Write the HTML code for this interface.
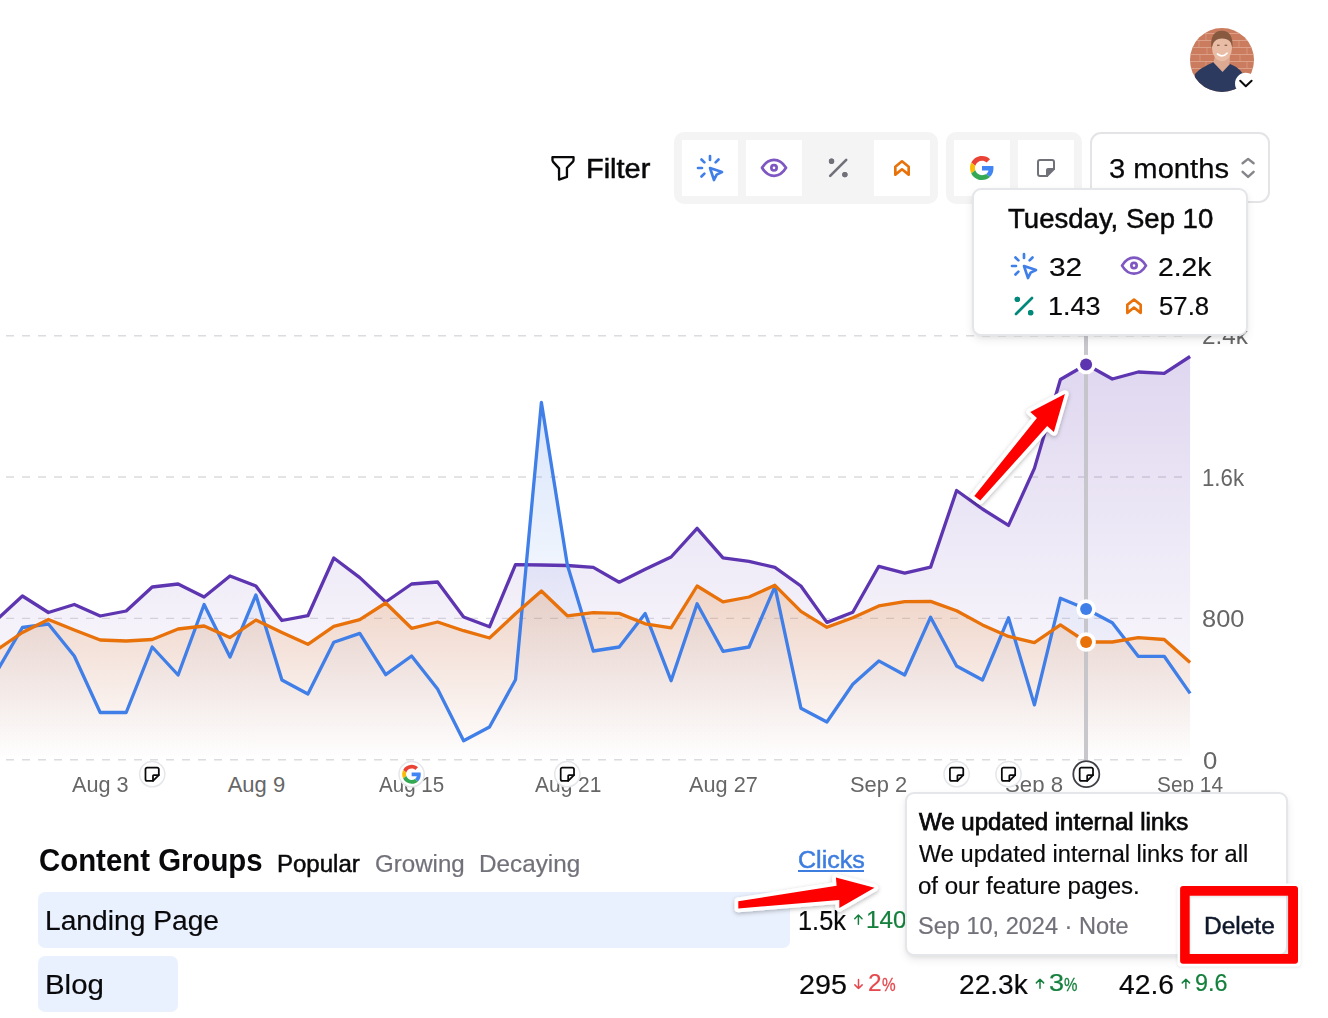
<!DOCTYPE html>
<html lang="en"><head><meta charset="utf-8"><title>Content Groups</title>
<style>
html,body{margin:0;padding:0;background:#fff;}
body{width:1328px;height:1018px;position:relative;overflow:hidden;font-family:"Liberation Sans",sans-serif;}
.t{position:absolute;white-space:nowrap;display:block;transform-origin:0 0;}
.abs{position:absolute;}
svg{position:absolute;left:0;top:0;overflow:visible;}
.grp{position:absolute;background:#f4f4f5;border-radius:10px;}
.btn{position:absolute;width:56px;height:56px;background:#fff;}
.card{position:absolute;background:#fff;border:2px solid #e5e6e9;border-radius:9px;box-shadow:0 4px 10px -1px rgba(0,0,0,.10),0 2px 5px -2px rgba(0,0,0,.08);box-sizing:border-box;}
</style></head><body>

<svg width="1328" height="120" viewBox="0 0 1328 120">
<defs><clipPath id="av"><circle cx="1222" cy="60" r="32"/></clipPath></defs>
<g clip-path="url(#av)">
<rect x="1188" y="26" width="68" height="68" fill="#cb7c5f"/>
<g stroke="#e3b09c" stroke-width=".9" opacity=".75"><path d="M1188 33.5H1256M1188 40.5H1256M1188 47.5H1256M1188 54.5H1256M1188 61.5H1256M1188 68.5H1256M1188 75.5H1256"/></g>
<g stroke="#e3b09c" stroke-width=".8" opacity=".6"><path d="M1198 26V33.5M1206 33.5V40.5M1199 40.5V47.5M1207 47.5V54.5M1200 54.5V61.5M1206 61.5V68.5M1240 26V33.5M1246 33.5V40.5M1239 40.5V47.5M1247 47.5V54.5M1240 54.5V61.5M1247 61.5V68.5"/></g>
<path d="M1192 98 L1195 74 C1200 68 1208 65 1213.5 62 L1222 70 L1229 63.5 C1235 66 1240 69 1243 74 L1252 98 Z" fill="#2b3a5e"/>
<path d="M1215 56 L1230 56 L1229.5 64.5 L1222.5 72 L1213.5 62.5 Z" fill="#dcaa93"/>
<ellipse cx="1222" cy="48" rx="10" ry="13.2" fill="#e9bca6"/>
<path d="M1211.6 49 C1209.5 36 1215 30.5 1222 30.8 C1229 31 1233.5 36 1232.4 48 C1231.5 42 1229 38.5 1222 38.5 C1215.5 38.5 1212.8 42 1211.6 49 Z" fill="#875a40"/>
<path d="M1217.5 54 Q1222.5 58.2 1227 53.2" stroke="#fff" stroke-width="1.7" fill="none" stroke-linecap="round"/>
<path d="M1217 45.2h2.6M1224.6 45.2h2.6" stroke="#6b4a3a" stroke-width="1.1"/>
</g>
<circle cx="1245.6" cy="83.4" r="10.6" fill="#fff"/>
<path d="M1240.2 80.8 L1245.8 86.3 L1251.6 80.8" fill="none" stroke="#09090b" stroke-width="2" stroke-linecap="round" stroke-linejoin="round"/>
</svg>

<div class="grp" style="left:674px;top:132px;width:264px;height:72px;"></div>
<div class="btn" style="left:682px;top:140px;"></div>
<div class="btn" style="left:746px;top:140px;"></div>
<div class="btn" style="left:874px;top:140px;"></div>
<div class="grp" style="left:946px;top:132px;width:136px;height:72px;"></div>
<div class="btn" style="left:954px;top:140px;"></div>
<div class="btn" style="left:1018px;top:140px;"></div>
<div class="abs" style="left:1090px;top:132px;width:180px;height:71px;box-sizing:border-box;border:2px solid #e4e4e7;border-radius:11px;background:#fff;"></div>
<span class="t " style="left:586.21px;top:154.10px;font-size:28.4px;line-height:28.4px;color:#09090b;transform:scaleX(1.0201);-webkit-text-stroke:0.5px #09090b;">Filter</span>
<span class="t " style="left:1108.68px;top:154.10px;font-size:28.4px;line-height:28.4px;color:#09090b;transform:scaleX(1.0275);-webkit-text-stroke:0.25px #09090b;">3 months</span>
<svg width="1328" height="220" viewBox="0 0 1328 220">
<g transform="translate(547.20,151.90) scale(1.3167)" fill="none" stroke="#09090b" stroke-width="1.75" stroke-linecap="round" stroke-linejoin="round"><path d="M4 4h16v2.172a2 2 0 0 1 -.586 1.414l-4.414 4.414v7l-6 2v-8.5l-4.48 -4.928a2 2 0 0 1 -.52 -1.345v-2.227z"/></g>
<g transform="translate(694.00,152.00) scale(1.3333)" fill="none" stroke="#407ee8" stroke-width="2" stroke-linecap="round" stroke-linejoin="round"><path d="M3 12l3 0"/><path d="M12 3l0 3"/><path d="M7.8 7.8l-2.2 -2.2"/><path d="M16.2 7.8l2.2 -2.2"/><path d="M7.8 16.2l-2.2 2.2"/><path d="M12 12l9 3l-4 2l-2 4l-3 -9"/></g>
<g transform="translate(758.00,151.80) scale(1.3333)" fill="none" stroke="#7e57c2" stroke-width="2" stroke-linecap="round" stroke-linejoin="round"><path d="M10 12a2 2 0 1 0 4 0a2 2 0 0 0 -4 0"/><path d="M21 12c-2.4 4 -5.4 6 -9 6c-3.6 0 -6.6 -2 -9 -6c2.4 -4 5.4 -6 9 -6c3.6 0 6.6 2 9 6"/></g>
<g transform="translate(822.20,151.90) scale(1.3333)" fill="none" stroke="#71717a" stroke-width="2" stroke-linecap="round" stroke-linejoin="round"><path d="M17 17m-1 0a1 1 0 1 0 2 0a1 1 0 1 0 -2 0"/><path d="M7 7m-1 0a1 1 0 1 0 2 0a1 1 0 1 0 -2 0"/><path d="M6 18l12 -12"/><circle cx="17" cy="17" r="1" fill="#71717a"/><circle cx="7" cy="7" r="1" fill="#71717a"/></g>
<g transform="translate(886.00,152.00) scale(1.3333)" fill="none" stroke="#e8710a" stroke-width="2" stroke-linecap="round" stroke-linejoin="round"><path d="M17 11v6l-5 -4l-5 4v-6l5 -4z"/></g>
<g transform="translate(970.00,156.00) scale(0.5000)"><path fill="#EA4335" d="M24 9.5c3.54 0 6.71 1.22 9.21 3.6l6.85-6.85C35.9 2.38 30.47 0 24 0 14.62 0 6.51 5.38 2.56 13.22l7.98 6.19C12.43 13.72 17.74 9.5 24 9.5z"/><path fill="#4285F4" d="M46.98 24.55c0-1.57-.15-3.09-.38-4.55H24v9.02h12.94c-.58 2.96-2.26 5.48-4.78 7.18l7.73 6c4.51-4.18 7.09-10.36 7.09-17.65z"/><path fill="#FBBC05" d="M10.53 28.59c-.48-1.45-.76-2.99-.76-4.59s.27-3.14.76-4.59l-7.98-6.19C.92 16.46 0 20.12 0 24c0 3.88.92 7.54 2.56 10.78l7.97-6.19z"/><path fill="#34A853" d="M24 48c6.48 0 11.93-2.13 15.89-5.81l-7.73-6c-2.15 1.45-4.92 2.3-8.16 2.3-6.26 0-11.57-4.22-13.47-9.91l-7.98 6.19C6.51 42.62 14.62 48 24 48z"/></g>
<g transform="translate(1034.00,156.00) scale(1.0000)" fill="none" stroke="#71717a" stroke-width="2" stroke-linecap="round" stroke-linejoin="round"><path d="M13 20l7 -7"/><path d="M13 20v-6a1 1 0 0 1 1 -1h6v-7a2 2 0 0 0 -2 -2h-12a2 2 0 0 0 -2 2v12a2 2 0 0 0 2 2h7"/><path d="M13.6 19.2v-5.2a.4 .4 0 0 1 .4 -.4h5.2z" fill="#71717a" stroke="none"/></g>
<path d="M1242.6 163.2 L1248.1 158.9 L1253.6 163.2 M1242.6 171.8 L1248.1 176.9 L1253.6 171.8" fill="none" stroke="#85858b" stroke-width="2.4" stroke-linecap="round" stroke-linejoin="round"/>
</svg>
<svg width="1328" height="1018" viewBox="0 0 1328 1018">
<defs>
<linearGradient id="gp" x1="0" y1="0" x2="0" y2="1"><stop offset="0" stop-color="#5e35b1" stop-opacity=".20"/><stop offset="1" stop-color="#5e35b1" stop-opacity="0"/></linearGradient>
<linearGradient id="gb" x1="0" y1="0" x2="0" y2="1"><stop offset="0" stop-color="#407ee8" stop-opacity=".2"/><stop offset=".5" stop-color="#407ee8" stop-opacity=".07"/><stop offset="1" stop-color="#407ee8" stop-opacity="0"/></linearGradient>
<linearGradient id="go" x1="0" y1="0" x2="0" y2="1"><stop offset="0" stop-color="#e8710a" stop-opacity=".21"/><stop offset="1" stop-color="#e8710a" stop-opacity="0"/></linearGradient>
</defs>
<path d="M-10 335.7 H1190" stroke="#dcdce0" stroke-width="1.4" stroke-dasharray="8 8" fill="none"/>
<path d="M-10 477 H1190" stroke="#dcdce0" stroke-width="1.4" stroke-dasharray="8 8" fill="none"/>
<path d="M-10 618.4 H1190" stroke="#dcdce0" stroke-width="1.4" stroke-dasharray="8 8" fill="none"/>
<path d="M-10 759.8 H1190" stroke="#dcdce0" stroke-width="1.4" stroke-dasharray="8 8" fill="none"/>
<path d="M-3.5,620.0 L22.4,596.0 L48.4,612.5 L74.3,604.5 L100.2,616.0 L126.2,611.0 L152.2,587.0 L178.1,584.0 L204.1,597.0 L230.0,576.0 L255.9,586.0 L281.9,620.5 L307.9,615.7 L333.8,558.0 L359.8,577.6 L385.7,602.0 L411.6,584.0 L437.6,582.0 L463.6,617.0 L489.5,626.8 L515.5,564.7 L541.4,565.0 L567.3,565.5 L593.3,567.4 L619.2,582.2 L645.2,569.3 L671.1,557.0 L697.1,528.3 L723.0,557.8 L749.0,561.3 L774.9,567.4 L800.9,586.0 L826.9,622.4 L852.8,612.2 L878.8,566.3 L904.7,573.2 L930.6,567.1 L956.6,490.5 L982.5,509.0 L1008.5,525.4 L1034.4,468.4 L1060.4,379.5 L1086.3,364.5 L1112.3,379.0 L1138.2,372.0 L1164.2,373.3 L1190.1,356.5 L1190.1,759.8 L-3.5,759.8 Z" fill="url(#gp)"/>
<path d="M-3.5,672.0 L22.4,627.5 L48.4,624.0 L74.3,656.0 L100.2,712.5 L126.2,712.5 L152.2,647.0 L178.1,675.0 L204.1,604.5 L230.0,657.0 L255.9,595.0 L281.9,680.0 L307.9,694.0 L333.8,642.3 L359.8,633.4 L385.7,674.7 L411.6,656.0 L437.6,689.0 L463.6,740.7 L489.5,727.0 L515.5,679.8 L541.4,402.4 L567.3,564.8 L593.3,651.0 L619.2,647.0 L645.2,613.6 L671.1,680.7 L697.1,603.7 L723.0,651.3 L749.0,647.0 L774.9,586.6 L800.9,708.2 L826.9,722.0 L852.8,684.3 L878.8,660.9 L904.7,675.0 L930.6,617.2 L956.6,666.0 L982.5,680.0 L1008.5,617.8 L1034.4,704.9 L1060.4,598.3 L1086.3,609.0 L1112.3,622.7 L1138.2,656.3 L1164.2,656.3 L1190.1,693.4 L1190.1,759.8 L-3.5,759.8 Z" fill="url(#gb)"/>
<path d="M-3.5,650.0 L22.4,632.5 L48.4,619.5 L74.3,630.0 L100.2,640.0 L126.2,641.0 L152.2,639.5 L178.1,629.0 L204.1,626.0 L230.0,637.5 L255.9,620.0 L281.9,632.5 L307.9,644.3 L333.8,626.4 L359.8,619.7 L385.7,603.0 L411.6,628.3 L437.6,622.0 L463.6,630.7 L489.5,638.0 L515.5,613.8 L541.4,591.0 L567.3,615.8 L593.3,612.6 L619.2,613.4 L645.2,623.8 L671.1,627.9 L697.1,586.0 L723.0,601.8 L749.0,597.0 L774.9,585.3 L800.9,611.4 L826.9,627.3 L852.8,617.7 L878.8,605.9 L904.7,601.6 L930.6,601.4 L956.6,610.7 L982.5,624.9 L1008.5,636.4 L1034.4,642.6 L1060.4,624.9 L1086.3,642.0 L1112.3,642.0 L1138.2,637.7 L1164.2,639.5 L1190.1,662.4 L1190.1,759.8 L-3.5,759.8 Z" fill="url(#go)"/>
<path d="M1086 334 V760" stroke="#c2c2c6" stroke-opacity=".9" stroke-width="4"/>
<path d="M-3.5,620.0 L22.4,596.0 L48.4,612.5 L74.3,604.5 L100.2,616.0 L126.2,611.0 L152.2,587.0 L178.1,584.0 L204.1,597.0 L230.0,576.0 L255.9,586.0 L281.9,620.5 L307.9,615.7 L333.8,558.0 L359.8,577.6 L385.7,602.0 L411.6,584.0 L437.6,582.0 L463.6,617.0 L489.5,626.8 L515.5,564.7 L541.4,565.0 L567.3,565.5 L593.3,567.4 L619.2,582.2 L645.2,569.3 L671.1,557.0 L697.1,528.3 L723.0,557.8 L749.0,561.3 L774.9,567.4 L800.9,586.0 L826.9,622.4 L852.8,612.2 L878.8,566.3 L904.7,573.2 L930.6,567.1 L956.6,490.5 L982.5,509.0 L1008.5,525.4 L1034.4,468.4 L1060.4,379.5 L1086.3,364.5 L1112.3,379.0 L1138.2,372.0 L1164.2,373.3 L1190.1,356.5" fill="none" stroke="#5e35b1" stroke-width="3.3" stroke-linejoin="round"/>
<path d="M-3.5,672.0 L22.4,627.5 L48.4,624.0 L74.3,656.0 L100.2,712.5 L126.2,712.5 L152.2,647.0 L178.1,675.0 L204.1,604.5 L230.0,657.0 L255.9,595.0 L281.9,680.0 L307.9,694.0 L333.8,642.3 L359.8,633.4 L385.7,674.7 L411.6,656.0 L437.6,689.0 L463.6,740.7 L489.5,727.0 L515.5,679.8 L541.4,402.4 L567.3,564.8 L593.3,651.0 L619.2,647.0 L645.2,613.6 L671.1,680.7 L697.1,603.7 L723.0,651.3 L749.0,647.0 L774.9,586.6 L800.9,708.2 L826.9,722.0 L852.8,684.3 L878.8,660.9 L904.7,675.0 L930.6,617.2 L956.6,666.0 L982.5,680.0 L1008.5,617.8 L1034.4,704.9 L1060.4,598.3 L1086.3,609.0 L1112.3,622.7 L1138.2,656.3 L1164.2,656.3 L1190.1,693.4" fill="none" stroke="#407ee8" stroke-width="3.3" stroke-linejoin="round"/>
<path d="M-3.5,650.0 L22.4,632.5 L48.4,619.5 L74.3,630.0 L100.2,640.0 L126.2,641.0 L152.2,639.5 L178.1,629.0 L204.1,626.0 L230.0,637.5 L255.9,620.0 L281.9,632.5 L307.9,644.3 L333.8,626.4 L359.8,619.7 L385.7,603.0 L411.6,628.3 L437.6,622.0 L463.6,630.7 L489.5,638.0 L515.5,613.8 L541.4,591.0 L567.3,615.8 L593.3,612.6 L619.2,613.4 L645.2,623.8 L671.1,627.9 L697.1,586.0 L723.0,601.8 L749.0,597.0 L774.9,585.3 L800.9,611.4 L826.9,627.3 L852.8,617.7 L878.8,605.9 L904.7,601.6 L930.6,601.4 L956.6,610.7 L982.5,624.9 L1008.5,636.4 L1034.4,642.6 L1060.4,624.9 L1086.3,642.0 L1112.3,642.0 L1138.2,637.7 L1164.2,639.5 L1190.1,662.4" fill="none" stroke="#e8710a" stroke-width="3.3" stroke-linejoin="round"/>
<circle cx="1086.1" cy="364.5" r="9.8" fill="#fff"/><circle cx="1086.1" cy="364.5" r="6" fill="#5e35b1"/>
<circle cx="1086.1" cy="609" r="9.8" fill="#fff"/><circle cx="1086.1" cy="609" r="6" fill="#407ee8"/>
<circle cx="1086.1" cy="642" r="9.8" fill="#fff"/><circle cx="1086.1" cy="642" r="6" fill="#e8710a"/>
</svg>
<span class="t " style="left:1202.29px;top:323.80px;font-size:24px;line-height:24px;color:#666;transform:scaleX(1.0124);">2.4k</span>
<span class="t " style="left:1201.68px;top:465.80px;font-size:24px;line-height:24px;color:#666;transform:scaleX(0.9264);">1.6k</span>
<span class="t " style="left:1202.24px;top:606.80px;font-size:24px;line-height:24px;color:#666;transform:scaleX(1.0588);">800</span>
<span class="t " style="left:1202.50px;top:748.80px;font-size:24px;line-height:24px;color:#666;transform:scaleX(1.0723);">0</span>
<span class="t " style="left:72.45px;top:773.80px;font-size:22px;line-height:22px;color:#666;transform:scaleX(0.9841);">Aug 3</span>
<span class="t " style="left:227.70px;top:773.80px;font-size:22px;line-height:22px;color:#666;">Aug 9</span>
<span class="t " style="left:379.40px;top:773.80px;font-size:22px;line-height:22px;color:#666;transform:scaleX(0.9348);">Aug 15</span>
<span class="t " style="left:534.60px;top:773.80px;font-size:22px;line-height:22px;color:#666;transform:scaleX(0.9527);">Aug 21</span>
<span class="t " style="left:689.15px;top:773.80px;font-size:22px;line-height:22px;color:#666;transform:scaleX(0.9862);">Aug 27</span>
<span class="t " style="left:850.16px;top:773.80px;font-size:22px;line-height:22px;color:#666;transform:scaleX(0.9946);">Sep 2</span>
<span class="t " style="left:1005.44px;top:773.80px;font-size:22px;line-height:22px;color:#666;transform:scaleX(1.0090);">Sep 8</span>
<span class="t " style="left:1156.90px;top:773.80px;font-size:22px;line-height:22px;color:#666;transform:scaleX(0.9465);">Sep 14</span>
<svg width="1328" height="1018" viewBox="0 0 1328 1018">
<circle cx="152.2" cy="774.2" r="12.6" fill="#fff" stroke="#e4e6ea" stroke-width="1.5"/>
<g transform="translate(142.15,764.20) scale(0.8333)" fill="none" stroke="#09090b" stroke-width="2.1" stroke-linecap="round" stroke-linejoin="round"><path d="M13 20l7 -7"/><path d="M13 20v-6a1 1 0 0 1 1 -1h6v-7a2 2 0 0 0 -2 -2h-12a2 2 0 0 0 -2 2v12a2 2 0 0 0 2 2h7"/></g>
<circle cx="411.6" cy="774.2" r="12.6" fill="#fff" stroke="#e4e6ea" stroke-width="1.5"/>
<g transform="translate(402.15,764.70) scale(0.3958)"><path fill="#EA4335" d="M24 9.5c3.54 0 6.71 1.22 9.21 3.6l6.85-6.85C35.9 2.38 30.47 0 24 0 14.62 0 6.51 5.38 2.56 13.22l7.98 6.19C12.43 13.72 17.74 9.5 24 9.5z"/><path fill="#4285F4" d="M46.98 24.55c0-1.57-.15-3.09-.38-4.55H24v9.02h12.94c-.58 2.96-2.26 5.48-4.78 7.18l7.73 6c4.51-4.18 7.09-10.36 7.09-17.65z"/><path fill="#FBBC05" d="M10.53 28.59c-.48-1.45-.76-2.99-.76-4.59s.27-3.14.76-4.59l-7.98-6.19C.92 16.46 0 20.12 0 24c0 3.88.92 7.54 2.56 10.78l7.97-6.19z"/><path fill="#34A853" d="M24 48c6.48 0 11.93-2.13 15.89-5.81l-7.73-6c-2.15 1.45-4.92 2.3-8.16 2.3-6.26 0-11.57-4.22-13.47-9.91l-7.98 6.19C6.51 42.62 14.62 48 24 48z"/></g>
<circle cx="567.3" cy="774.2" r="12.6" fill="#fff" stroke="#e4e6ea" stroke-width="1.5"/>
<g transform="translate(557.35,764.20) scale(0.8333)" fill="none" stroke="#09090b" stroke-width="2.1" stroke-linecap="round" stroke-linejoin="round"><path d="M13 20l7 -7"/><path d="M13 20v-6a1 1 0 0 1 1 -1h6v-7a2 2 0 0 0 -2 -2h-12a2 2 0 0 0 -2 2v12a2 2 0 0 0 2 2h7"/></g>
<circle cx="956.6" cy="774.2" r="12.6" fill="#fff" stroke="#e4e6ea" stroke-width="1.5"/>
<g transform="translate(946.60,764.20) scale(0.8333)" fill="none" stroke="#09090b" stroke-width="2.1" stroke-linecap="round" stroke-linejoin="round"><path d="M13 20l7 -7"/><path d="M13 20v-6a1 1 0 0 1 1 -1h6v-7a2 2 0 0 0 -2 -2h-12a2 2 0 0 0 -2 2v12a2 2 0 0 0 2 2h7"/></g>
<circle cx="1008.5" cy="774.2" r="12.6" fill="#fff" stroke="#e4e6ea" stroke-width="1.5"/>
<g transform="translate(998.50,764.20) scale(0.8333)" fill="none" stroke="#09090b" stroke-width="2.1" stroke-linecap="round" stroke-linejoin="round"><path d="M13 20l7 -7"/><path d="M13 20v-6a1 1 0 0 1 1 -1h6v-7a2 2 0 0 0 -2 -2h-12a2 2 0 0 0 -2 2v12a2 2 0 0 0 2 2h7"/></g>
<circle cx="1086.3" cy="774.2" r="13" fill="#fff" stroke="#3f3f46" stroke-width="1.8"/>
<g transform="translate(1076.35,764.20) scale(0.8333)" fill="none" stroke="#09090b" stroke-width="2.1" stroke-linecap="round" stroke-linejoin="round"><path d="M13 20l7 -7"/><path d="M13 20v-6a1 1 0 0 1 1 -1h6v-7a2 2 0 0 0 -2 -2h-12a2 2 0 0 0 -2 2v12a2 2 0 0 0 2 2h7"/></g>
</svg>
<div class="card" style="left:972px;top:188px;width:276px;height:148px;"></div>
<span class="t " style="left:1007.81px;top:204.80px;font-size:28px;line-height:28px;color:#09090b;transform:scaleX(0.9841);-webkit-text-stroke:0.5px #09090b;">Tuesday, Sep 10</span>
<span class="t " style="left:1049.07px;top:254.00px;font-size:26.6px;line-height:26.6px;color:#09090b;transform:scaleX(1.1224);-webkit-text-stroke:0.2px #09090b;">32</span>
<span class="t " style="left:1158.37px;top:254.00px;font-size:26.6px;line-height:26.6px;color:#09090b;transform:scaleX(1.0606);-webkit-text-stroke:0.2px #09090b;">2.2k</span>
<span class="t " style="left:1048.16px;top:293.00px;font-size:26.6px;line-height:26.6px;color:#09090b;transform:scaleX(1.0147);-webkit-text-stroke:0.2px #09090b;">1.43</span>
<span class="t " style="left:1158.73px;top:293.00px;font-size:26.6px;line-height:26.6px;color:#09090b;transform:scaleX(0.9681);-webkit-text-stroke:0.2px #09090b;">57.8</span>
<svg width="1328" height="400" viewBox="0 0 1328 400">
<g transform="translate(1008.00,250.00) scale(1.3333)" fill="none" stroke="#407ee8" stroke-width="2" stroke-linecap="round" stroke-linejoin="round"><path d="M3 12l3 0"/><path d="M12 3l0 3"/><path d="M7.8 7.8l-2.2 -2.2"/><path d="M16.2 7.8l2.2 -2.2"/><path d="M7.8 16.2l-2.2 2.2"/><path d="M12 12l9 3l-4 2l-2 4l-3 -9"/></g>
<g transform="translate(1118.00,249.60) scale(1.3333)" fill="none" stroke="#7e57c2" stroke-width="2" stroke-linecap="round" stroke-linejoin="round"><path d="M10 12a2 2 0 1 0 4 0a2 2 0 0 0 -4 0"/><path d="M21 12c-2.4 4 -5.4 6 -9 6c-3.6 0 -6.6 -2 -9 -6c2.4 -4 5.4 -6 9 -6c3.6 0 6.6 2 9 6"/></g>
<g transform="translate(1008.00,290.00) scale(1.3333)" fill="none" stroke="#00897b" stroke-width="2" stroke-linecap="round" stroke-linejoin="round"><path d="M17 17m-1 0a1 1 0 1 0 2 0a1 1 0 1 0 -2 0"/><path d="M7 7m-1 0a1 1 0 1 0 2 0a1 1 0 1 0 -2 0"/><path d="M6 18l12 -12"/><circle cx="17" cy="17" r="1" fill="#00897b"/><circle cx="7" cy="7" r="1" fill="#00897b"/></g>
<g transform="translate(1118.00,290.20) scale(1.3333)" fill="none" stroke="#e8710a" stroke-width="2" stroke-linecap="round" stroke-linejoin="round"><path d="M17 11v6l-5 -4l-5 4v-6l5 -4z"/></g>
</svg>
<div class="abs" style="left:38px;top:892.2px;width:752px;height:55.6px;border-radius:7px;background:#eaf1fe;"></div>
<div class="abs" style="left:38px;top:956.4px;width:139.6px;height:55.6px;border-radius:7px;background:#eaf1fe;"></div>
<span class="t " style="left:38.85px;top:844.30px;font-size:32px;line-height:32px;color:#09090b;transform:scaleX(0.9183);font-weight:700;">Content Groups</span>
<span class="t " style="left:276.82px;top:851.70px;font-size:24.2px;line-height:24.2px;color:#09090b;transform:scaleX(0.9928);-webkit-text-stroke:0.5px #09090b;">Popular</span>
<span class="t " style="left:375.46px;top:851.70px;font-size:24.2px;line-height:24.2px;color:#71717a;transform:scaleX(0.9963);-webkit-text-stroke:0.2px #71717a;">Growing</span>
<span class="t " style="left:479.30px;top:851.70px;font-size:24.2px;line-height:24.2px;color:#71717a;transform:scaleX(1.0041);-webkit-text-stroke:0.2px #71717a;">Decaying</span>
<span class="t " style="left:44.77px;top:906.10px;font-size:28.4px;line-height:28.4px;color:#09090b;transform:scaleX(0.9930);-webkit-text-stroke:0.2px #09090b;">Landing Page</span>
<span class="t " style="left:44.68px;top:970.10px;font-size:28.4px;line-height:28.4px;color:#09090b;transform:scaleX(1.0357);-webkit-text-stroke:0.2px #09090b;">Blog</span>
<span class="t " style="left:797.81px;top:847.70px;font-size:24.2px;line-height:24.2px;color:#3d7de0;transform:scaleX(1.0373);-webkit-text-stroke:0.5px #3d7de0;">Clicks</span>
<div class="abs" style="left:798px;top:869.8px;width:66px;height:2px;background:#3d7de0;"></div>
<span class="t " style="left:798.01px;top:906.20px;font-size:28.2px;line-height:28.2px;color:#09090b;transform:scaleX(0.8987);-webkit-text-stroke:0.2px #09090b;">1.5k</span>
<span class="t " style="left:866.27px;top:908.70px;font-size:23.2px;line-height:23.2px;color:#15803d;transform:scaleX(1.0467);-webkit-text-stroke:0.2px #15803d;">140</span>
<span class="t " style="left:798.53px;top:970.20px;font-size:28.2px;line-height:28.2px;color:#09090b;transform:scaleX(1.0186);-webkit-text-stroke:0.2px #09090b;">295</span>
<span class="t " style="left:867.55px;top:971.70px;font-size:23.2px;line-height:23.2px;color:#e5484d;transform:scaleX(1.0534);-webkit-text-stroke:0.2px #e5484d;">2</span>
<span class="t " style="left:881.70px;top:975.30px;font-size:19px;line-height:19px;color:#e5484d;transform:scaleX(0.8063);-webkit-text-stroke:0.3px #e5484d;">%</span>
<span class="t " style="left:958.56px;top:970.20px;font-size:28.2px;line-height:28.2px;color:#09090b;transform:scaleX(0.9974);-webkit-text-stroke:0.2px #09090b;">22.3k</span>
<span class="t " style="left:1049.13px;top:971.70px;font-size:23.2px;line-height:23.2px;color:#15803d;transform:scaleX(1.1670);-webkit-text-stroke:0.2px #15803d;">3</span>
<span class="t " style="left:1063.80px;top:975.30px;font-size:19px;line-height:19px;color:#15803d;transform:scaleX(0.7937);-webkit-text-stroke:0.3px #15803d;">%</span>
<span class="t " style="left:1119.40px;top:970.20px;font-size:28.2px;line-height:28.2px;color:#09090b;transform:scaleX(1.0027);-webkit-text-stroke:0.2px #09090b;">42.6</span>
<span class="t " style="left:1194.70px;top:971.70px;font-size:23.2px;line-height:23.2px;color:#15803d;transform:scaleX(1.0054);-webkit-text-stroke:0.2px #15803d;">9.6</span>
<svg width="1328" height="1018" viewBox="0 0 1328 1018">
<path d="M858.40,924.15 V915.05 M854.75,918.70 L858.40,915.05 L862.05,918.70" fill="none" stroke="#15803d" stroke-width="1.5" stroke-linecap="round" stroke-linejoin="round"/>
<path d="M858.50,979.45 V988.55 M854.85,984.90 L858.50,988.55 L862.15,984.90" fill="none" stroke="#e5484d" stroke-width="1.5" stroke-linecap="round" stroke-linejoin="round"/>
<path d="M1040.00,988.35 V979.25 M1036.35,982.90 L1040.00,979.25 L1043.65,982.90" fill="none" stroke="#15803d" stroke-width="1.5" stroke-linecap="round" stroke-linejoin="round"/>
<path d="M1185.90,988.35 V979.25 M1182.25,982.90 L1185.90,979.25 L1189.55,982.90" fill="none" stroke="#15803d" stroke-width="1.5" stroke-linecap="round" stroke-linejoin="round"/>
</svg>
<div class="card" style="left:904.5px;top:792px;width:383.5px;height:164px;"></div>
<span class="t " style="left:919.20px;top:809.70px;font-size:24.2px;line-height:24.2px;color:#09090b;transform:scaleX(0.9932);-webkit-text-stroke:0.75px #09090b;">We updated internal links</span>
<span class="t " style="left:919.20px;top:841.70px;font-size:24.2px;line-height:24.2px;color:#09090b;transform:scaleX(0.9769);-webkit-text-stroke:0.2px #09090b;">We updated internal links for all</span>
<span class="t " style="left:918.21px;top:873.70px;font-size:24.2px;line-height:24.2px;color:#09090b;transform:scaleX(0.9934);-webkit-text-stroke:0.2px #09090b;">of our feature pages.</span>
<span class="t " style="left:918.23px;top:913.70px;font-size:24.2px;line-height:24.2px;color:#71717a;transform:scaleX(0.9732);-webkit-text-stroke:0.2px #71717a;">Sep 10, 2024 · Note</span>
<span class="t " style="left:1204.18px;top:913.70px;font-size:24.2px;line-height:24.2px;color:#0f172a;transform:scaleX(1.0125);-webkit-text-stroke:0.5px #0f172a;">Delete</span>
<svg width="1328" height="1018" viewBox="0 0 1328 1018">
<defs><filter id="sh" x="-20%" y="-20%" width="140%" height="140%"><feDropShadow dx="0" dy="1.5" stdDeviation="2.2" flood-color="#000" flood-opacity=".28"/></filter><filter id="sh2" x="-10%" y="-10%" width="120%" height="120%"><feDropShadow dx="0" dy="1" stdDeviation="1.6" flood-color="#000" flood-opacity=".12"/></filter></defs>
<g filter="url(#sh)" stroke="#fff" stroke-width="7.5" stroke-linejoin="round" fill="#fff">
<path d="M974.3 496 L980.2 500.4 L1047.2 426 L1053.9 431.9 L1064.9 393.9 L1030.3 412 L1036.9 417.9 Z"/>
<path d="M738.3 901.3 L738.3 908.5 L839.3 900 L839.3 908.1 L874.5 887.8 L835.9 877.6 L836.6 885.8 Z"/>
</g>
<g fill="#ff0000">
<path d="M974.3 496 L980.2 500.4 L1047.2 426 L1053.9 431.9 L1064.9 393.9 L1030.3 412 L1036.9 417.9 Z"/>
<path d="M738.3 901.3 L738.3 908.5 L839.3 900 L839.3 908.1 L874.5 887.8 L835.9 877.6 L836.6 885.8 Z"/>
</g>
<path filter="url(#sh2)" fill="#fff" fill-rule="evenodd" d="M1177.6 886.6 a3 3 0 0 1 3 -3 H1297.5 a3 3 0 0 1 3 3 V963.3 a3 3 0 0 1 -3 3 H1180.6 a3 3 0 0 1 -3 -3 Z M1189.7 895.7 V953.9 H1288.1 V895.7 Z"/>
<path fill="#fe0000" fill-rule="evenodd" d="M1180.1 889.1 a3 3 0 0 1 3 -3 H1295 a3 3 0 0 1 3 3 V960.8 a3 3 0 0 1 -3 3 H1183.1 a3 3 0 0 1 -3 -3 Z M1189.7 895.7 V953.9 H1288.1 V895.7 Z"/>
</svg>

</body></html>
